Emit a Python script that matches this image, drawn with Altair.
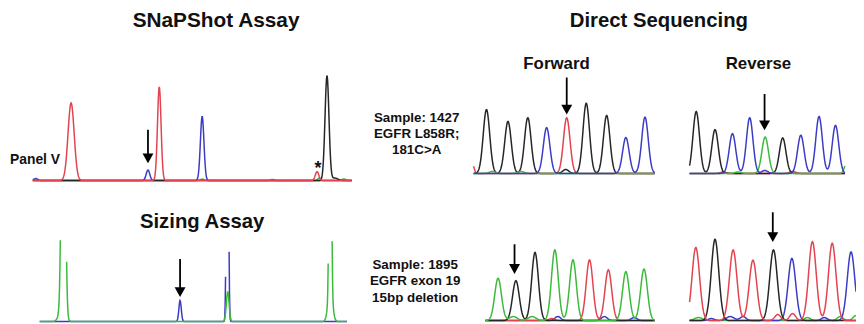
import numpy as np
import pandas as pd
import altair as alt

# ---------------- data ----------------
# Each trace: channel colour, peak position, peak height (above baseline), peak width (sigma)
# SNaPShot "Panel V" electropherogram
pv_channel = ["blue", "red", "blue", "red", "green", "blue", "green", "red", "green", "black", "black", "green"]
pv_pos     = [36, 71.7, 149.3, 160.7, 204, 204, 275, 320, 322, 330, 338, 347]
pv_height  = [2, 78.4, 10.7, 94.7, 1.5, 64.7, 1.2, 9, 2.5, 105.7, 2.5, 1.5]
pv_width   = [2, 3.1, 1.8, 1.8, 2, 1.8, 2, 1.8, 1.5, 2.0, 3, 2]

# Sizing assay (tall peaks run off the top of the panel)
sz_channel = ["green", "green", "blue", "blue", "green", "green", "green"]
sz_pos     = [63.9, 62.5, 181.7, 229.5, 229.8, 333.3, 333.3]
sz_height  = [420, 12, 21.3, 420, 30, 420, 35]
sz_width   = [1.65, 3.0, 1.2, 0.9, 1.4, 0.95, 2.2]

# Sample 1427 forward chromatogram
f1_channel = ["red", "black", "green", "black", "green", "black", "blue", "black", "red",
              "black", "black", "blue", "blue"]
f1_pos     = [476, 491, 497, 512.7, 526, 532.7, 551.7, 571, 572, 591.7, 612.3, 631.7, 651]
f1_height  = [12, 64.5, 2, 52.5, 2, 56.2, 46.2, 4, 56.2, 70.8, 58.5, 36.2, 56.8]
f1_width   = [2, 3.3, 3, 3.3, 3, 3.3, 3.3, 3, 3.3, 3.3, 3.3, 3.3, 3.3]

# Sample 1427 reverse chromatogram
r1_channel = ["black", "black", "red", "blue", "green", "blue", "green", "blue", "black",
              "red", "blue", "blue", "blue", "green"]
r1_pos     = [702.7, 721.7, 730, 739.3, 745, 756.7, 772.3, 772, 790, 800, 808.3, 826.7, 843.3, 854]
r1_height  = [62.5, 44.2, 1.5, 40.2, 1.5, 56.2, 36.8, 3, 35.8, 2, 38.5, 57.5, 48.5, 9]
r1_width   = [3.3, 3.3, 3, 3.3, 3, 3.3, 3.3, 3, 3.3, 3, 3.3, 3.3, 3.3, 2]

# Sample 1895 forward chromatogram
f2_channel = ["green", "green", "black", "green", "black", "red", "green", "blue", "green",
              "red", "blue", "red", "green", "blue", "green"]
f2_pos     = [502.7, 518, 520.7, 537, 540, 557, 560, 563, 578.3, 595, 610, 614, 631.7, 640, 650]
f2_height  = [42.7, 4, 40.3, 4, 68.7, 2, 71.3, 4, 61.3, 61.3, 4, 51.3, 49.3, 3, 52]
f2_width   = [3.4, 4, 3.4, 4, 3.4, 3, 3.4, 3, 3.4, 3.4, 3, 3.4, 3.4, 3, 3.4]

# Sample 1895 reverse chromatogram
r2_channel = ["red", "green", "blue", "black", "blue", "red", "blue", "red", "black", "red",
              "blue", "red", "green", "red", "blue", "red", "green", "blue", "green"]
r2_pos     = [702.3, 705, 718, 721.7, 737, 740, 750, 760, 780.7, 785, 799.3, 800, 815,
              820, 832, 840, 848, 859, 864]
r2_height  = [73.7, 3, 2, 82, 4, 71.3, 4, 61, 71.3, 6, 62.7, 7, 3, 79.7, 3, 78, 4, 69.3, 5]
r2_width   = [3.8, 4, 3, 3.8, 4, 3.8, 3, 3.8, 3.8, 3, 3.8, 3, 3, 3.8, 3, 3.8, 3, 3.8, 3]

# Arrows: position, top of shaft, tip
arrow_x   = [149.3, 181.7, 572, 771.7, 519.3, 780]
arrow_top = [129.3, 260, 76.7, 93.3, 245, 212.7]
arrow_tip = [163.3, 298.3, 114, 130, 275, 242.7]

# Labels
label_text = ["SNaPShot Assay", "Direct Sequencing", "Sizing Assay", "Forward", "Reverse",
              "Sample: 1427", "EGFR L858R;", "181C>A",
              "Sample: 1895", "EGFR exon 19", "15bp deletion", "*"]
label_x    = [218, 665, 204, 561.7, 765.5, 420.5, 420.5, 420.5, 419, 419, 419, 321]
label_y    = [20, 20, 222.7, 62.7, 62.7, 117.7, 134, 150, 265.7, 282.3, 299.3, 169]
label_size = [21, 20.5, 20.5, 17, 17, 13.5, 13.5, 13.5, 13.5, 13.5, 13.5, 18]

# ---------------- layout (panel extents and baselines) ----------------
W, H = 856, 316
X0, Y0 = 8, 8
panels = [
    # name, peaks, x start, x end, baseline, channel draw order, clip top
    ("pv", (pv_channel, pv_pos, pv_height, pv_width), 33, 355, 180.7, ["blue", "green", "black", "red"], None),
    ("sz", (sz_channel, sz_pos, sz_height, sz_width), 40, 350, 323, ["blue", "green"], 235),
    ("f1", (f1_channel, f1_pos, f1_height, f1_width), 478, 661, 173.5, ["red", "black", "green", "blue"], None),
    ("r1", (r1_channel, r1_pos, r1_height, r1_width), 696, 853, 173.5, ["red", "black", "green", "blue"], None),
    ("f2", (f2_channel, f2_pos, f2_height, f2_width), 490, 661, 322, ["blue", "red", "black", "green"], None),
    ("r2", (r2_channel, r2_pos, r2_height, r2_width), 696, 864, 322, ["green", "blue", "black", "red"], None),
]

rows = []
for name, (ch, pos, hgt, wid), xa, xb, base, order, clip in panels:
    xs = np.arange(xa, xb + 0.01, 0.4)
    for rank, c in enumerate(order):
        sig = np.zeros_like(xs)
        for cc, p, h, w in zip(ch, pos, hgt, wid):
            if cc == c:
                sig += h * np.exp(-0.5 * ((xs - p) / w) ** 2)
        ys = base - sig
        seg = 0
        prev_in = True
        for x, y in zip(xs, ys):
            inside = clip is None or y >= clip
            if inside:
                if not prev_in:
                    seg += 1
                rows.append({"x": float(x), "y": float(y), "ch": c, "rank": rank,
                             "key": f"{name}-{c}-{seg}"})
            prev_in = inside
traces = pd.DataFrame(rows)

arrows = pd.DataFrame({"x": arrow_x, "top": arrow_top, "tip": arrow_tip})
arrows["shaft_end"] = arrows["tip"] - 6
arrows["head"] = arrows["tip"] - 5

labels = pd.DataFrame({"text": label_text, "x": label_x, "y": label_y, "size": label_size})
panel_label = pd.DataFrame({"text": ["Panel V"], "x": [10], "y": [160], "size": [14]})

xs_ = alt.Scale(domain=[X0, X0 + W], nice=False, zero=False)
ys_ = alt.Scale(domain=[Y0 + H, Y0], nice=False, zero=False)
col_scale = alt.Scale(domain=["red", "blue", "black", "green"],
                      range=["#e3434f", "#3b3bc6", "#262626", "#3cba3c"])

layers = []
for rank in range(4):
    layers.append(
        alt.Chart(traces[traces["rank"] == rank]).mark_line(strokeWidth=1.5).encode(
            x=alt.X("x:Q", scale=xs_, axis=None),
            y=alt.Y("y:Q", scale=ys_, axis=None),
            color=alt.Color("ch:N", scale=col_scale, legend=None),
            detail="key:N",
            order="x:Q",
        )
    )

shafts = alt.Chart(arrows).mark_rule(strokeWidth=1.8, color="black").encode(
    x=alt.X("x:Q", scale=xs_, axis=None),
    y=alt.Y("top:Q", scale=ys_, axis=None),
    y2="shaft_end:Q",
)
heads = alt.Chart(arrows).mark_point(
    shape="M-1,-0.9L1,-0.9L0,0.9Z", filled=True, size=121, color="black", opacity=1
).encode(
    x=alt.X("x:Q", scale=xs_, axis=None),
    y=alt.Y("head:Q", scale=ys_, axis=None),
)
texts = alt.Chart(labels).mark_text(
    font="Liberation Sans", fontWeight="bold", align="center", baseline="middle", color="#111111"
).encode(
    x=alt.X("x:Q", scale=xs_, axis=None),
    y=alt.Y("y:Q", scale=ys_, axis=None),
    text="text:N",
    size=alt.Size("size:Q", scale=None),
)
ptext = alt.Chart(panel_label).mark_text(
    font="Liberation Sans", fontWeight="bold", align="left", baseline="middle", color="#111111"
).encode(
    x=alt.X("x:Q", scale=xs_, axis=None),
    y=alt.Y("y:Q", scale=ys_, axis=None),
    text="text:N",
    size=alt.Size("size:Q", scale=None),
)

chart = alt.layer(*layers, shafts, heads, texts, ptext).properties(
    width=W, height=H, padding=0, autosize=alt.AutoSizeParams(type="none")
).configure_view(stroke=None)

chart.save("out.html", embed_options={"renderer": "svg", "actions": False})
